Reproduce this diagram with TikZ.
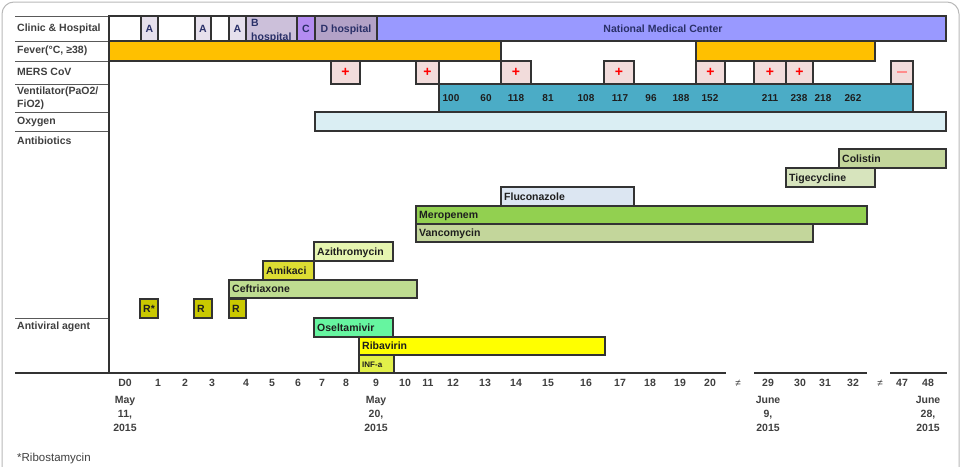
\documentclass[tikz,border=0pt]{standalone}
\usepackage{fontspec}
\setmainfont{Liberation Sans}
\definecolor{edge}{HTML}{333333}
\definecolor{labgray}{HTML}{3F3F3F}
\definecolor{ink}{HTML}{1E1E1E}
\definecolor{navy}{HTML}{2A3068}
\definecolor{clinA}{HTML}{E6E0EC}
\definecolor{clinB}{HTML}{CCC0DA}
\definecolor{clinC}{HTML}{B48CF2}
\definecolor{clinD}{HTML}{B3A2C7}
\definecolor{nmc}{HTML}{9999FF}
\definecolor{fever}{HTML}{FFC000}
\definecolor{mers}{HTML}{F2DCDB}
\definecolor{vent}{HTML}{4BACC6}
\definecolor{oxy}{HTML}{DAEEF3}
\definecolor{colis}{HTML}{C3D69B}
\definecolor{tige}{HTML}{D7E4BD}
\definecolor{fluco}{HTML}{DCE6F2}
\definecolor{mero}{HTML}{92D050}
\definecolor{vanco}{HTML}{C3D69B}
\definecolor{azith}{HTML}{E6F5B0}
\definecolor{amik}{HTML}{DDDD33}
\definecolor{ceft}{HTML}{BEDC90}
\definecolor{ribo}{HTML}{C9C800}
\definecolor{oselt}{HTML}{66F5A0}
\definecolor{ribav}{HTML}{FFFF00}
\definecolor{infa}{HTML}{E2F04A}
\newcommand\lbl{\fontsize{10.5}{13}\selectfont\bfseries}
\begin{document}
\begin{tikzpicture}[x=1pt,y=-1pt]
\tikzset{
cell/.style={draw=edge, line width=1.2pt},
sep/.style={draw=gray!70!black, line width=0.9pt},
rowlabel/.style={anchor=west, inner sep=0pt, font=\lbl, text=labgray, align=left},
celltext/.style={inner sep=0pt, text height=7.6pt, text depth=0pt, font=\lbl, text=navy},
bartext/.style={anchor=west, inner xsep=3pt, inner ysep=0pt, text height=7.6pt, text depth=0pt, font=\lbl, text=ink},
daylabel/.style={inner sep=0pt, font=\lbl, text=labgray},
sign/.style={inner sep=0pt, font=\fontsize{14}{14}\selectfont\bfseries}
}
\clip (0,0) rectangle (961,466);
\draw[gray!55, line width=1pt, rounded corners=12pt] (2,2) rectangle (959,500);

% label column
\foreach \y in {16,41,61,84,112,131,318}
\draw[sep] (15,\y) -- (109,\y);
\node[rowlabel] (lclinic) at (17,28.5) {Clinic \& Hospital};
\node[rowlabel] (lfever) at (17,51) {Fever(°C, ≥38)};
\node[rowlabel] (lmers) at (17,72) {MERS CoV};
\node[rowlabel] (lvent) at (17,98) {Ventilator(PaO2/\\FiO2)};
\node[rowlabel] (loxy) at (17,122) {Oxygen};
\node[rowlabel] (lanti) at (17,141) {Antibiotics};
\node[rowlabel] (lviral) at (17,327) {Antiviral agent};

% clinic and hospital
\foreach \xa/\xb/\c in {109/141/white,141/158/clinA,158/195/white,195/211/clinA,211/229/white,229/246/clinA,246/297/clinB,297/315/clinC,315/377/clinD,377/946/nmc}
\draw[cell, fill=\c] (\xa,16) rectangle (\xb,41);
\foreach \x [count=\n] in {149.5,203,237.5}
\node[celltext] (clinicA\n) at (\x,28.5) {A};
\node[anchor=north west, inner sep=0pt, align=left, font=\fontsize{10.5}{14}\selectfont\bfseries, text=navy] (bhosp) at (251,19.5) {B\\hospital};
\node[celltext] (chosp) at (306,28.5) {C};
\node[celltext] (dhosp) at (346,28.5) {D hospital};
\node[celltext] (center) at (663,28.5) {National Medical Center};

% fever
\draw[cell, fill=fever] (109,41) rectangle (501,61);
\draw[cell, fill=fever] (696,41) rectangle (875,61);

% MERS CoV
\foreach \xa/\xb [count=\n] in {331/360,416/439,501/531,604/634,696/725,754/786,786/813}{
\draw[cell, fill=mers] (\xa,61) rectangle (\xb,84);
\node[sign, text=red] (pos\n) at ({(\xa+\xb)/2},72.5) {+};
}
\draw[cell, fill=mers] (891,61) rectangle (913,84);
\node[inner sep=0pt, fill=red!45, minimum width=10pt, minimum height=1.6pt] (neg) at (902,72) {};

% ventilator and oxygen
\draw[cell, fill=vent] (439,84) rectangle (913,112);
\foreach \x/\v in {451/100,486/60,516/118,548/81,586/108,620/117,651/96,681/188,710/152,770/211,799/238,823/218,853/262}
\node[celltext, font=\fontsize{10}{12}\selectfont\bfseries, text=ink] (pf\v) at (\x,98) {\v};
\draw[cell, fill=oxy] (315,112) rectangle (946,131);

% drugs
\foreach \xa/\ya/\xb/\yb/\c/\t [count=\n] in {
839/149/946/168/colis/Colistin,
786/168/875/187/tige/Tigecycline,
501/187/634/206/fluco/Fluconazole,
416/206/867/224/mero/Meropenem,
416/224/813/242/vanco/Vancomycin,
314/242/393/261/azith/Azithromycin,
263/261/314/280/amik/Amikaci,
229/280/417/298/ceft/Ceftriaxone,
140/299/158/318/ribo/R*,
194/299/212/318/ribo/R,
229/299/246/318/ribo/R,
314/318/393/337/oselt/Oseltamivir,
359/337/605/355/ribav/Ribavirin}{
\draw[cell, fill=\c] (\xa,\ya) rectangle (\xb,\yb);
\node[bartext] (drug\n) at (\xa,{(\ya+\yb)/2}) {\t};
}
\draw[cell, fill=infa] (359,355) rectangle (394,373);
\node[bartext, text height=6pt, font=\fontsize{8}{9}\selectfont\bfseries] (interferon) at (359,364) {INF-a};

% time axis
\draw[cell] (109,16) -- (109,373);
\draw[cell, line width=1.5pt] (15,373) -- (726,373);
\draw[cell, line width=1.5pt] (754,373) -- (867,373);
\draw[cell, line width=1.5pt] (890,373) -- (947,373);
\foreach \x/\d in {125/D0,158/1,185/2,212/3,246/4,272/5,298/6,322/7,346/8,376/9,405/10,428/11,453/12,485/13,516/14,548/15,586/16,620/17,650/18,680/19,710/20,768/29,800/30,825/31,853/32,902/47,928/48}
\node[daylabel] (day\d) at (\x,383) {\d};
\node[inner sep=0pt, font=\fontsize{10}{10}\selectfont, text=labgray] (gapa) at (738,383) {≠};
\node[inner sep=0pt, font=\fontsize{10}{10}\selectfont, text=labgray] (gapb) at (880,383) {≠};
\node[daylabel, align=center, anchor=north, font=\fontsize{10.5}{14}\selectfont\bfseries] (dmay11) at (125,396) {May\\11,\\2015};
\node[daylabel, align=center, anchor=north, font=\fontsize{10.5}{14}\selectfont\bfseries] (dmay20) at (376,396) {May\\20,\\2015};
\node[daylabel, align=center, anchor=north, font=\fontsize{10.5}{14}\selectfont\bfseries] (djun9) at (768,396) {June\\9,\\2015};
\node[daylabel, align=center, anchor=north, font=\fontsize{10.5}{14}\selectfont\bfseries] (djun28) at (928,396) {June\\28,\\2015};
\node[anchor=west, inner sep=0pt, font=\fontsize{11.5}{13}\selectfont, text=labgray] (note) at (17,459) {*Ribostamycin};
\end{tikzpicture}
\end{document}
